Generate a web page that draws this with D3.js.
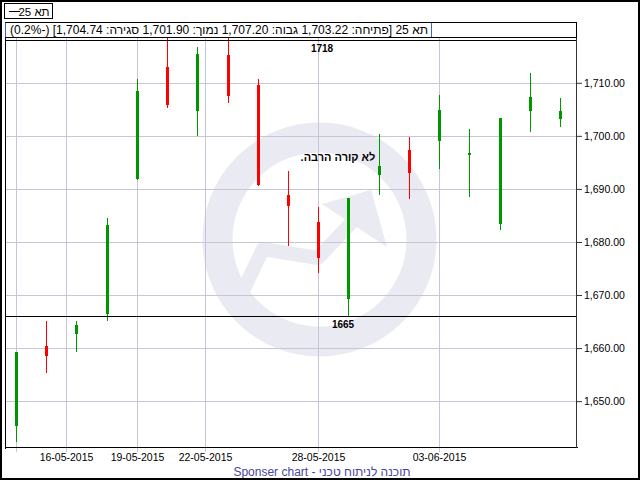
<!DOCTYPE html>
<html>
<head>
<meta charset="utf-8">
<script src="https://cdn.jsdelivr.net/npm/d3@7"></script>
<style>
body { margin: 0; background: #fff; }
svg { display: block; font-family: "Liberation Sans", Arial, sans-serif; }
</style>
</head>
<body>
<svg width="640" height="480"></svg>
<script>
// trading days (TA-25), dd-mm-yyyy
var dates = ["13-05-2015", "14-05-2015", "17-05-2015", "18-05-2015", "19-05-2015", "20-05-2015", "21-05-2015",
    "25-05-2015", "26-05-2015", "27-05-2015", "28-05-2015", "31-05-2015", "01-06-2015", "02-06-2015",
    "03-06-2015", "04-06-2015", "07-06-2015", "08-06-2015", "09-06-2015"];
var open  = [1645.3, 1660.4, 1662.6, 1666.4, 1691.9, 1713.0, 1704.7, 1715.2, 1709.6, 1688.8, 1683.8, 1669.2, 1692.6, 1697.4, 1699.1, 1696.3, 1683.3, 1704.7, 1703.22];
var high  = [1659.3, 1665.1, 1665.1, 1684.5, 1710.8, 1718.6, 1716.8, 1718.6, 1710.8, 1693.4, 1686.6, 1688.3, 1700.3, 1699.8, 1707.7, 1701.3, 1703.4, 1711.9, 1707.20];
var low   = [1642.5, 1655.4, 1659.4, 1665.3, 1691.8, 1705.4, 1700.2, 1706.4, 1690.7, 1679.4, 1674.4, 1666.0, 1689.0, 1688.3, 1693.9, 1688.7, 1682.4, 1701.0, 1701.90];
var close = [1659.3, 1658.6, 1664.3, 1683.2, 1708.4, 1705.8, 1715.4, 1707.6, 1690.8, 1686.8, 1676.9, 1688.3, 1694.4, 1693.0, 1704.9, 1696.8, 1703.4, 1707.4, 1704.74];

var gridDates = ["13-05-2015", "16-05-2015", "19-05-2015", "22-05-2015", "28-05-2015", "03-06-2015"];
var tickLabels = ["", "16-05-2015", "19-05-2015", "22-05-2015", "28-05-2015", "03-06-2015"];
var yTicks = [1650, 1660, 1670, 1680, 1690, 1700, 1710];

var lineValues = [1718, 1666];
var lineLabels = ["1718", "1665"];
var lineLabelX = [322, 343];

var legendText = "תא 25";
var infoText = "תא 25 [פתיחה: 1,703.22 גבוה: 1,707.20 נמוך: 1,701.90 סגירה: 1,704.74] (-0.2%)";
var noteText = "לא קורה הרבה.";
var footerText = "Sponser chart - תוכנה לניתוח טכני";

var svg = d3.select("svg");
var parse = d3.timeParse("%d-%m-%Y");

var plot = { left: 5, right: 577, top: 37, bottom: 448 };
var green = "#009600", red = "#ff0000", gridColor = "#c8c5d8";

// date -> (fractional) trading-day index, then index -> pixel
var times = dates.map(function (d) { return +parse(d); });
var dayIndex = d3.scaleLinear().domain(times).range(d3.range(dates.length));
var x = d3.scaleLinear().domain([0, dates.length - 1]).range([16.5, 560.5]);
var y = d3.scaleLinear().domain([1641.17, 1718.63]).range([plot.bottom, plot.top]);

function px(i) { return Math.floor(x(i)) + 0.5; }
function py(v) { return Math.round(y(v)) + 0.5; }

svg.append("rect").attr("width", 640).attr("height", 480).attr("fill", "#fff");

// watermark
var wm = svg.append("g").attr("fill", "none").attr("stroke", "#eaeaf3");
wm.append("circle").attr("cx", 319.5).attr("cy", 239.5).attr("r", 102).attr("stroke-width", 30);
wm.append("path")
    .attr("d", "M242,293 L263,249 L318,258 L352,222")
    .attr("stroke-width", 14).attr("stroke-linejoin", "round");
wm.append("path")
    .attr("d", "M322,204 L371,190 L387,247 Z")
    .attr("fill", "#eaeaf3").attr("stroke", "none");

// grid
var grid = svg.append("g").attr("stroke", gridColor).attr("shape-rendering", "crispEdges");
grid.selectAll(".h").data(yTicks).enter().append("line")
    .attr("x1", plot.left).attr("x2", plot.right)
    .attr("y1", py).attr("y2", py);
grid.selectAll(".v").data(gridDates).enter().append("line")
    .attr("x1", function (d) { return px(dayIndex(+parse(d))); })
    .attr("x2", function (d) { return px(dayIndex(+parse(d))); })
    .attr("y1", plot.top).attr("y2", plot.bottom + 4);

// x labels
svg.append("g").selectAll("text").data(gridDates).enter().append("text")
    .attr("x", function (d) { return px(dayIndex(+parse(d))); })
    .attr("y", 461)
    .attr("text-anchor", "middle")
    .attr("font-size", "10.5px")
    .attr("fill", "#000")
    .text(function (d, i) { return tickLabels[i]; });

// right axis
var yAxis = svg.append("g").attr("transform", "translate(" + plot.right + ",0)")
    .call(d3.axisRight(y).tickValues(yTicks).tickSize(5).tickPadding(2)
        .tickFormat(function (d) { return d3.format(",.2f")(d); }));
yAxis.select(".domain").remove();
yAxis.selectAll(".tick line").attr("stroke", "#333");
yAxis.selectAll(".tick text").attr("font-size", "10.5px").attr("font-family", "Liberation Sans, Arial, sans-serif").attr("fill", "#000");

// candles
var candles = svg.append("g").attr("shape-rendering", "crispEdges");
var idx = d3.range(dates.length);
candles.selectAll("line").data(idx).enter().append("line")
    .attr("x1", px).attr("x2", px)
    .attr("y1", function (i) { return Math.round(y(high[i])); })
    .attr("y2", function (i) { return Math.round(y(low[i])) + 1; })
    .attr("stroke", function (i) { return close[i] >= open[i] ? green : red; });
candles.selectAll("rect").data(idx).enter().append("rect")
    .attr("x", function (i) { return px(i) - 1.5; })
    .attr("width", 3)
    .attr("y", function (i) { return Math.round(y(Math.max(open[i], close[i]))); })
    .attr("height", function (i) {
        return Math.max(1, Math.round(y(Math.min(open[i], close[i]))) - Math.round(y(Math.max(open[i], close[i]))));
    })
    .attr("fill", function (i) { return close[i] >= open[i] ? green : red; });

// horizontal lines with labels
svg.append("g").selectAll("line").data(lineValues).enter().append("line")
    .attr("x1", plot.left).attr("x2", plot.right)
    .attr("y1", py).attr("y2", py)
    .attr("stroke", "#000").attr("shape-rendering", "crispEdges");
svg.append("g").selectAll("text").data(lineValues).enter().append("text")
    .attr("x", function (d, i) { return lineLabelX[i]; })
    .attr("y", function (d) { return py(d) + 11; })
    .attr("text-anchor", "middle")
    .attr("font-size", "10px").attr("font-weight", "bold")
    .text(function (d, i) { return lineLabels[i]; });

// note
svg.append("text")
    .attr("x", 338).attr("y", 161)
    .attr("text-anchor", "middle")
    .attr("direction", "rtl")
    .attr("font-size", "11px").attr("font-weight", "bold")
    .text(noteText);

// plot frame
var frame = svg.append("g").attr("shape-rendering", "crispEdges");
frame.append("line").attr("x1", plot.left + 0.5).attr("x2", plot.left + 0.5).attr("y1", plot.top).attr("y2", plot.bottom + 1).attr("stroke", "#000");
frame.append("line").attr("x1", plot.left).attr("x2", plot.right + 1).attr("y1", plot.bottom - 0.5).attr("y2", plot.bottom - 0.5).attr("stroke", "#000");
frame.append("line").attr("x1", plot.right - 0.5).attr("x2", plot.right - 0.5).attr("y1", 22).attr("y2", plot.bottom).attr("stroke", "#333");

// info bar
frame.append("rect").attr("x", 5.5).attr("y", 22.5).attr("width", 571).attr("height", 15)
    .attr("fill", "#fff").attr("stroke", "#000");
frame.append("line").attr("x1", 5.5).attr("x2", 5.5).attr("y1", 23).attr("y2", 37).attr("stroke", "#3a66c4");
frame.append("line").attr("x1", 431.5).attr("x2", 431.5).attr("y1", 23).attr("y2", 37).attr("stroke", "#3a66c4");
svg.append("text")
    .attr("x", 219).attr("y", 34)
    .attr("text-anchor", "middle")
    .attr("direction", "rtl")
    .attr("font-size", "12px")
    .text(infoText);

// legend
frame.append("rect").attr("x", 4.5).attr("y", 3.5).attr("width", 48).attr("height", 15)
    .attr("fill", "#fff").attr("stroke", "#000");
frame.append("line").attr("x1", 9).attr("x2", 20).attr("y1", 11.5).attr("y2", 11.5).attr("stroke", "#000");
svg.append("text")
    .attr("x", 34).attr("y", 15.5)
    .attr("text-anchor", "middle")
    .attr("direction", "rtl")
    .attr("font-size", "11.5px")
    .text(legendText);

// footer
svg.append("text")
    .attr("x", 322).attr("y", 476)
    .attr("text-anchor", "middle")
    .attr("font-size", "12px")
    .attr("fill", "#4b44a0")
    .text(footerText);

// outer border
svg.append("rect").attr("x", 1).attr("y", 1).attr("width", 638).attr("height", 478)
    .attr("fill", "none").attr("stroke", "#000").attr("stroke-width", 2);
</script>
</body>
</html>
